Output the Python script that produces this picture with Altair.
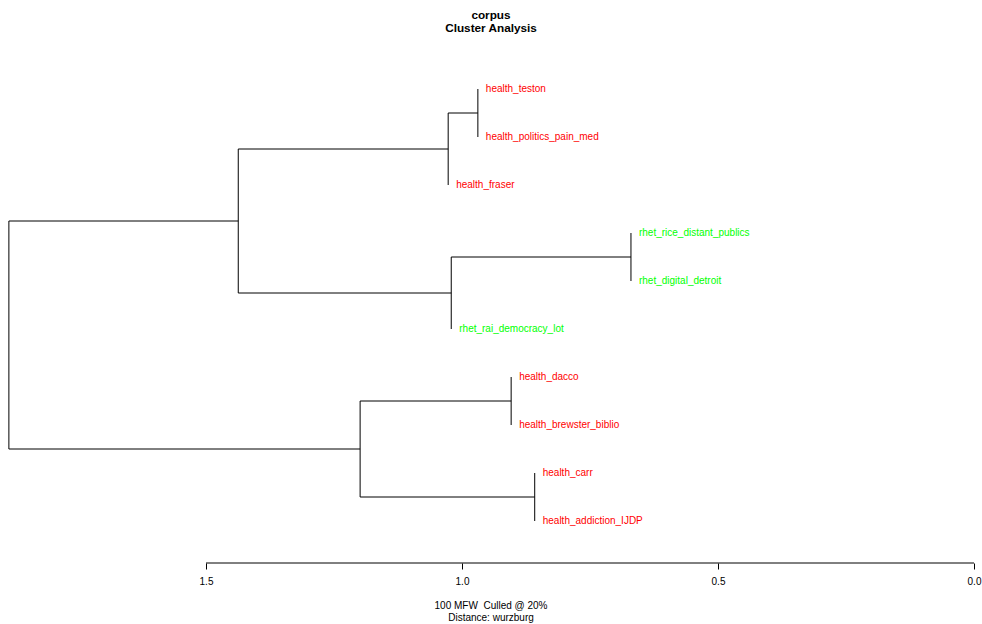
import altair as alt
import pandas as pd

# Text leaves of the dendrogram, top to bottom
leaves = [
    "health_teston",
    "health_politics_pain_med",
    "health_fraser",
    "rhet_rice_distant_publics",
    "rhet_digital_detroit",
    "rhet_rai_democracy_lot",
    "health_dacco",
    "health_brewster_biblio",
    "health_carr",
    "health_addiction_IJDP",
]
groups = ["health", "health", "health", "rhet", "rhet", "rhet",
          "health", "health", "health", "health"]

# hclust-style merges: negative = leaf (1-based), positive = earlier merge
merge_left = [-1, -4, -7, -9, 1, 2, 3, 5, 8]
merge_right = [-2, -5, -8, -10, -3, -6, 4, 6, 7]
merge_height = [0.969, 0.670, 0.904, 0.858, 1.027, 1.021, 1.199, 1.437, 1.885]

tick_values = [0.0, 0.5, 1.0, 1.5]

# Build the rectangular dendrogram segments
node_y = {}
segments = []
leaf_x = [None] * len(leaves)


def child_pos(c):
    if c < 0:
        return float(-c - 1), None
    return node_y[c], merge_height[c - 1]


for k, (a, b, h) in enumerate(zip(merge_left, merge_right, merge_height), start=1):
    ya, ha = child_pos(a)
    yb, hb = child_pos(b)
    segments.append({"x": h, "x2": h, "y": ya, "y2": yb})
    for c, yc, hc in ((a, ya, ha), (b, yb, hb)):
        if c < 0:
            leaf_x[-c - 1] = h
        else:
            segments.append({"x": h, "x2": hc, "y": yc, "y2": yc})
    node_y[k] = (ya + yb) / 2

seg_df = pd.DataFrame(segments)
leaf_df = pd.DataFrame({
    "name": leaves,
    "group": groups,
    "x": leaf_x,
    "y": list(range(len(leaves))),
})

Y_MIN, Y_MAX = -1.8541667, 9.875
axis_df = pd.DataFrame({"x": [min(tick_values)], "x2": [max(tick_values)], "y": [Y_MAX]})

FONT = "Liberation Sans"
SMALL = 10

x_scale = alt.Scale(domain=[-0.015625, 1.90234375], reverse=True, nice=False, zero=False)
y_scale = alt.Scale(domain=[Y_MIN, Y_MAX], reverse=True, nice=False, zero=False)

branches = alt.Chart(seg_df).mark_rule(color="black", strokeWidth=1).encode(
    x=alt.X("x:Q", scale=x_scale,
            axis=alt.Axis(values=tick_values, format=".1f", domain=False, grid=False,
                          ticks=True, tickSize=6, tickColor="black", tickWidth=1,
                          labelFont=FONT, labelFontSize=SMALL, labelColor="black",
                          labelPadding=7, title=None)),
    x2="x2:Q",
    y=alt.Y("y:Q", scale=y_scale, axis=None),
    y2="y2:Q",
)

axis_line = alt.Chart(axis_df).mark_rule(color="black", strokeWidth=1).encode(
    x=alt.X("x:Q", scale=x_scale),
    x2="x2:Q",
    y=alt.Y("y:Q", scale=y_scale),
)

labels = alt.Chart(leaf_df).mark_text(
    align="left", baseline="middle", dx=8, font=FONT, fontSize=SMALL
).encode(
    x=alt.X("x:Q", scale=x_scale),
    y=alt.Y("y:Q", scale=y_scale),
    text="name:N",
    color=alt.Color("group:N",
                    scale=alt.Scale(domain=["health", "rhet"], range=["#ff0000", "#00ff00"]),
                    legend=None),
)

one = pd.DataFrame({"k": [0]})


def note(text, ypix, size, weight="normal"):
    return alt.Chart(one).mark_text(
        align="center", baseline="middle", font=FONT, fontSize=size,
        fontWeight=weight, color="black"
    ).encode(x=alt.value(491), y=alt.value(ypix), text=alt.value(text))


chart = alt.layer(
    branches,
    axis_line,
    labels,
    note("corpus", 15, 11.75, "bold"),
    note("Cluster Analysis", 28, 11.75, "bold"),
    note("100 MFW \u00a0Culled @ 20%", 606, SMALL),
    note("Distance: wurzburg", 618, SMALL),
).properties(
    width=982,
    height=563,
    autosize=alt.AutoSizeParams(type="none"),
    padding={"left": 0, "top": 0, "right": 0, "bottom": 61},
    background="white",
).configure_view(stroke=None)

chart.save("out.html", embed_options={"renderer": "svg", "actions": False})
